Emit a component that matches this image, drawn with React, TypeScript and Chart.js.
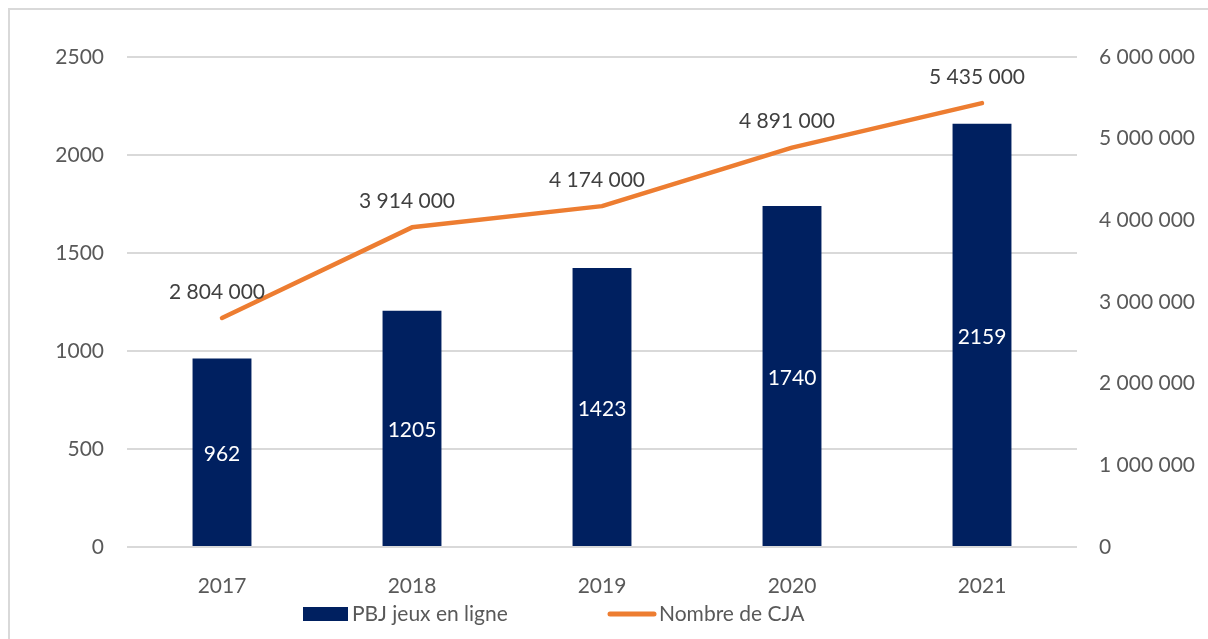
import React, { useEffect, useRef } from "react";
import { Chart, registerables } from "chart.js";

Chart.register(...registerables);

const categories = ["2017", "2018", "2019", "2020", "2021"];
const pbjValues = [962, 1205, 1423, 1740, 2159];
const cjaValues = [2804000, 3914000, 4174000, 4891000, 5435000];
const leftTicks = [0, 500, 1000, 1500, 2000, 2500];
const rightTicks = [0, 1000000, 2000000, 3000000, 4000000, 5000000, 6000000];
const pbjLabel = "PBJ jeux en ligne";
const cjaLabel = "Nombre de CJA";

const NAVY = "#002060";
const ORANGE = "#ED7D31";
const GRID = "#D9D9D9";
const TICK = "#595959";
const FONT = "Lato, sans-serif";
const FS = 21;

const fmt = (v: number) => String(Math.round(v)).replace(/\B(?=(\d{3})+(?!\d))/g, " ");

const labelsPlugin = {
  id: "customLabels",
  afterDatasetsDraw(chart: any) {
    const ctx = chart.ctx;
    ctx.save();
    ctx.font = `${FS}px ${FONT}`;
    ctx.textAlign = "center";
    ctx.textBaseline = "middle";
    const barMeta = chart.getDatasetMeta(0);
    barMeta.data.forEach((bar: any, i: number) => {
      const mid = (bar.y + bar.base) / 2;
      ctx.fillStyle = "#FFFFFF";
      ctx.fillText(String(pbjValues[i]), bar.x, mid + 2);
    });
    const lineMeta = chart.getDatasetMeta(1);
    lineMeta.data.forEach((pt: any, i: number) => {
      ctx.fillStyle = "#404040";
      ctx.fillText(fmt(cjaValues[i]), pt.x - 5, pt.y - 26);
    });
    ctx.restore();
  },
  afterDraw(chart: any) {
    const ctx = chart.ctx;
    ctx.save();
    const cy = 614;
    ctx.fillStyle = NAVY;
    ctx.fillRect(303, cy - 7, 45, 14);
    ctx.font = `${FS}px ${FONT}`;
    ctx.textAlign = "left";
    ctx.textBaseline = "middle";
    ctx.fillStyle = TICK;
    ctx.fillText(pbjLabel, 352, cy);
    ctx.strokeStyle = ORANGE;
    ctx.lineWidth = 5;
    ctx.lineCap = "round";
    ctx.beginPath();
    ctx.moveTo(610, cy);
    ctx.lineTo(654, cy);
    ctx.stroke();
    ctx.fillStyle = TICK;
    ctx.fillText(cjaLabel, 659, cy);
    ctx.restore();
  },
};

export default function App() {
  const ref = useRef<HTMLCanvasElement | null>(null);
  useEffect(() => {
    document.body.style.margin = "0";
    document.body.style.overflow = "hidden";
    const chart = new Chart(ref.current as HTMLCanvasElement, {
      type: "bar",
      data: {
        labels: categories,
        datasets: [
          {
            type: "bar",
            label: pbjLabel,
            data: pbjValues,
            backgroundColor: NAVY,
            yAxisID: "y",
            barPercentage: 0.31,
            categoryPercentage: 1,
            order: 2,
          },
          {
            type: "line",
            label: cjaLabel,
            data: cjaValues,
            borderColor: ORANGE,
            backgroundColor: ORANGE,
            borderWidth: 4.5,
            borderCapStyle: "round",
            borderJoinStyle: "round",
            pointRadius: 0,
            yAxisID: "y1",
            order: 1,
          } as any,
        ],
      },
      options: {
        responsive: false,
        animation: false,
        layout: { padding: { top: 57, left: 0, right: 0, bottom: 0 } },
        plugins: { legend: { display: false }, tooltip: { enabled: false } },
        scales: {
          x: {
            grid: { display: false },
            border: { display: false },
            ticks: { color: TICK, font: { family: FONT, size: FS }, padding: 19 },
            afterFit(scale: any) {
              scale.height = 92;
            },
          },
          y: {
            position: "left",
            min: 0,
            max: 2500,
            afterBuildTicks(scale: any) {
              scale.ticks = leftTicks.map((v) => ({ value: v }));
            },
            grid: { color: GRID, lineWidth: 2, drawTicks: false },
            border: { display: false },
            ticks: {
              color: TICK,
              font: { family: FONT, size: FS },
              padding: 23,
              callback: (v: any) => String(v),
            },
            afterFit(scale: any) {
              scale.width = 127;
            },
          },
          y1: {
            position: "right",
            min: 0,
            max: 6000000,
            afterBuildTicks(scale: any) {
              scale.ticks = rightTicks.map((v) => ({ value: v }));
            },
            grid: { drawOnChartArea: false, drawTicks: false },
            border: { display: false },
            ticks: {
              color: TICK,
              font: { family: FONT, size: FS },
              padding: 22,
              callback: (v: any) => fmt(Number(v)),
            },
            afterFit(scale: any) {
              scale.width = 131;
            },
          },
        },
      } as any,
      plugins: [labelsPlugin],
    });
    return () => chart.destroy();
  }, []);

  return (
    <div style={{ position: "fixed", left: 0, top: 0, width: 1208, height: 639, background: "#fff" }}>
      <div
        style={{
          position: "absolute",
          left: 8,
          top: 8,
          width: 1300,
          height: 700,
          borderTop: `2px solid ${GRID}`,
          borderLeft: `2px solid ${GRID}`,
        }}
      />
      <canvas ref={ref} width={1208} height={639} style={{ position: "absolute", left: 0, top: 0 }} />
    </div>
  );
}
